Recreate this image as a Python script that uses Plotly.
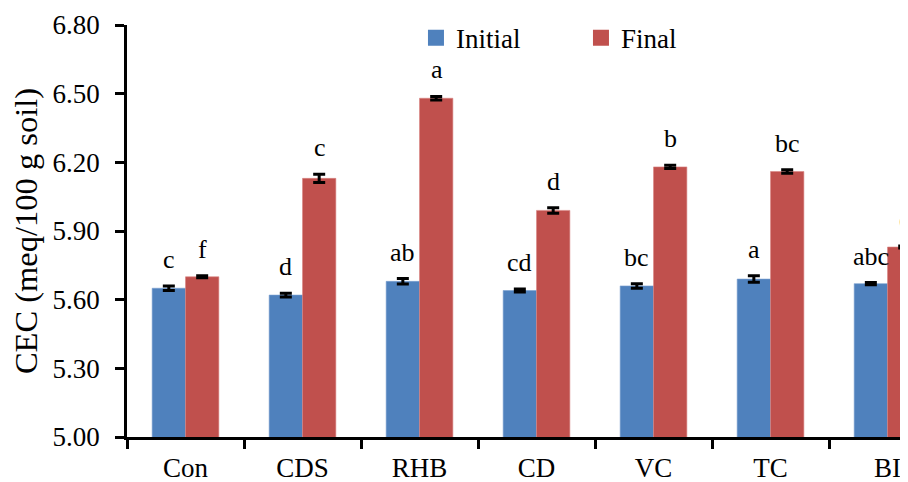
import plotly.graph_objects as go

categories = ["Con", "CDS", "RHB", "CD", "VC", "TC", "BI"]
initial_vals = [5.65, 5.62, 5.68, 5.64, 5.66, 5.69, 5.67]
final_vals = [5.70, 6.13, 6.48, 5.99, 6.18, 6.16, 5.83]
initial_err = [0.010, 0.008, 0.012, 0.007, 0.010, 0.014, 0.005]
final_err = [0.004, 0.018, 0.008, 0.012, 0.007, 0.008, 0.004]
initial_letters = ["c", "d", "ab", "cd", "bc", "a", "abc"]
final_letters = ["f", "c", "a", "d", "b", "bc", "e"]
y_ticks = [5.00, 5.30, 5.60, 5.90, 6.20, 6.50, 6.80]

BLUE = "#4F81BD"
RED = "#C0504D"
FONT = "Liberation Serif"

fig = go.Figure()
fig.add_trace(go.Bar(
    x=categories, y=initial_vals, name="Initial", showlegend=False,
    marker=dict(color=BLUE, line=dict(color="#7BA0D0", width=0.6)),
    error_y=dict(type="data", array=initial_err, color="black", thickness=3, width=6),
))
fig.add_trace(go.Bar(
    x=categories, y=final_vals, name="Final", showlegend=False,
    marker=dict(color=RED, line=dict(color="#D88583", width=0.6)),
    error_y=dict(type="data", array=final_err, color="black", thickness=3, width=6),
))
# legend-only entries
fig.add_trace(go.Scatter(x=[None], y=[None], mode="markers", name="Initial",
                         marker=dict(symbol="square", size=16, color=BLUE)))
fig.add_trace(go.Scatter(x=[None], y=[None], mode="markers", name="Final",
                         marker=dict(symbol="square", size=16, color=RED)))

annotations = []
for i, c in enumerate(categories):
    annotations.append(dict(x=i, xshift=-17, y=initial_vals[i] + initial_err[i], yanchor="bottom",
                            yshift=10, text=initial_letters[i], showarrow=False,
                            font=dict(family=FONT, size=26, color="black"), xref="x", yref="y"))
    annotations.append(dict(x=i, xshift=17, y=final_vals[i] + final_err[i], yanchor="bottom",
                            yshift=10, text=final_letters[i], showarrow=False,
                            font=dict(family=FONT, size=26, color="black"), xref="x", yref="y"))

fig.update_layout(
    width=900, height=474,
    margin=dict(l=119, r=0, t=17, b=45),
    paper_bgcolor="white", plot_bgcolor="white",
    barmode="group", bargap=0.43, bargroupgap=0,
    font=dict(family=FONT, size=27, color="black"),
    legend=dict(orientation="h", x=0.37, xanchor="left", y=0.968, yanchor="middle",
                font=dict(family=FONT, size=27), entrywidth=120, bgcolor="rgba(0,0,0,0)",
                itemsizing="trace"),
    annotations=annotations,
    xaxis=dict(type="category", categoryorder="array", categoryarray=categories,
               range=[-0.5, 6.175], showline=True, linecolor="black", linewidth=2.5,
               ticks="outside", tickson="boundaries", ticklen=9, tickwidth=2.5, tickcolor="black",
               ticklabelstandoff=5, automargin=False,
               tickfont=dict(family=FONT, size=27), showgrid=False, zeroline=False),
    yaxis=dict(range=[5.0, 6.8], tickvals=y_ticks, tickformat=".2f",
               showline=True, linecolor="black", linewidth=2.5,
               ticks="outside", ticklen=9, tickwidth=2.5, tickcolor="black",
               ticklabelstandoff=10, automargin=True,
               tickfont=dict(family=FONT, size=27), showgrid=False, zeroline=False,
               title=dict(text="CEC (meq/100 g soil)", font=dict(family=FONT, size=32.5), standoff=22)),
)

fig.write_html("out.html")
